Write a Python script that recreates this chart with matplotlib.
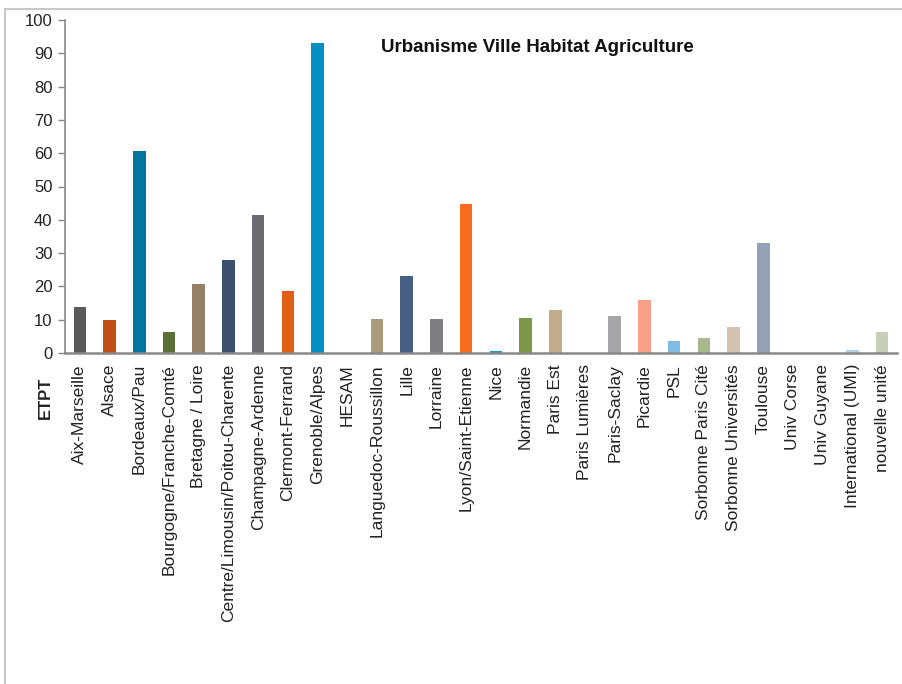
import matplotlib
matplotlib.use("Agg")
import matplotlib.pyplot as plt
from matplotlib.lines import Line2D

plt.rcParams['font.family'] = ['Liberation Sans Narrow', 'Liberation Sans', 'DejaVu Sans']

categories = ["Aix-Marseille", "Alsace", "Bordeaux/Pau", "Bourgogne/Franche-Comté",
              "Bretagne / Loire", "Centre/Limousin/Poitou-Charente", "Champagne-Ardenne",
              "Clermont-Ferrand", "Grenoble/Alpes", "HESAM", "Languedoc-Roussillon",
              "Lille", "Lorraine", "Lyon/Saint-Etienne", "Nice", "Normandie", "Paris Est",
              "Paris Lumières", "Paris-Saclay", "Picardie", "PSL", "Sorbonne Paris Cité",
              "Sorbonne Universités", "Toulouse", "Univ Corse", "Univ Guyane",
              "International (UMI)", "nouvelle unité"]
values = [13.9, 9.8, 60.6, 6.4, 20.6, 27.8, 41.3, 18.5, 93.1, 0, 10.3,
          23.0, 10.3, 44.7, 0.7, 10.6, 12.8, 0, 11.0, 15.8, 3.7, 4.6,
          7.9, 32.9, 0, 0, 1.0, 6.4]
colors = ["#5a5a5c", "#bf4f14", "#04759f", "#5a7035", "#928165", "#3a506e", "#6b6b70",
          "#e05e16", "#0590c4", "#ffffff", "#ac9a7c", "#475f84", "#7d7d82", "#f96b1e",
          "#109ad0", "#7b984a", "#c3ab8b", "#ffffff", "#a5a5a8", "#f8a088", "#80bbe3",
          "#a8b78c", "#d3c3b0", "#95a2b5", "#ffffff", "#ffffff", "#b3cfe6", "#c8cfb8"]
yticks = [0, 10, 20, 30, 40, 50, 60, 70, 80, 90, 100]
title = "Urbanisme Ville Habitat Agriculture"
ylabel = "ETPT"

fig = plt.figure(figsize=(9.03, 6.84), dpi=100)
ax = fig.add_axes([65/903, 1-353/684, 832/903, 333/684])

x = list(range(len(categories)))
ax.bar(x, values, width=0.42, color=colors)
ax.set_xlim(-0.5, len(categories) - 0.5)
ax.set_ylim(0, 100)
ax.set_yticks(yticks)
ax.set_yticklabels([str(t) for t in yticks], fontsize=12, color="#222222")
ax.set_xticks(x)
ax.set_xticklabels(categories, rotation=90, fontsize=12.5, color="#222222", va="top")
ax.tick_params(axis='x', length=0, pad=8)
ax.tick_params(axis='y', length=5, color="#898989", width=1, pad=4)

for s in ["top", "right"]:
    ax.spines[s].set_visible(False)
ax.spines["left"].set_color("#898989")
ax.spines["left"].set_linewidth(1.2)
ax.spines["bottom"].set_color("#898989")
ax.spines["bottom"].set_linewidth(1.8)

fig.text(537/903, 1-48/684, title, ha="center", va="center", fontsize=13.5,
         fontweight="bold", color="#111111")
fig.text(45/903, 1-398/684, ylabel, ha="center", va="center", rotation=90,
         fontsize=12, fontweight="bold", color="#222222")

# outer frame (top and left edges visible)
fig.add_artist(Line2D([5/903, 5/903], [0, 1-9/684], transform=fig.transFigure,
                      color="#c8c8c8", linewidth=1.5))
fig.add_artist(Line2D([5/903, 1], [1-9/684, 1-9/684], transform=fig.transFigure,
                      color="#c8c8c8", linewidth=1.5))

fig.savefig("out.png", dpi=100)
